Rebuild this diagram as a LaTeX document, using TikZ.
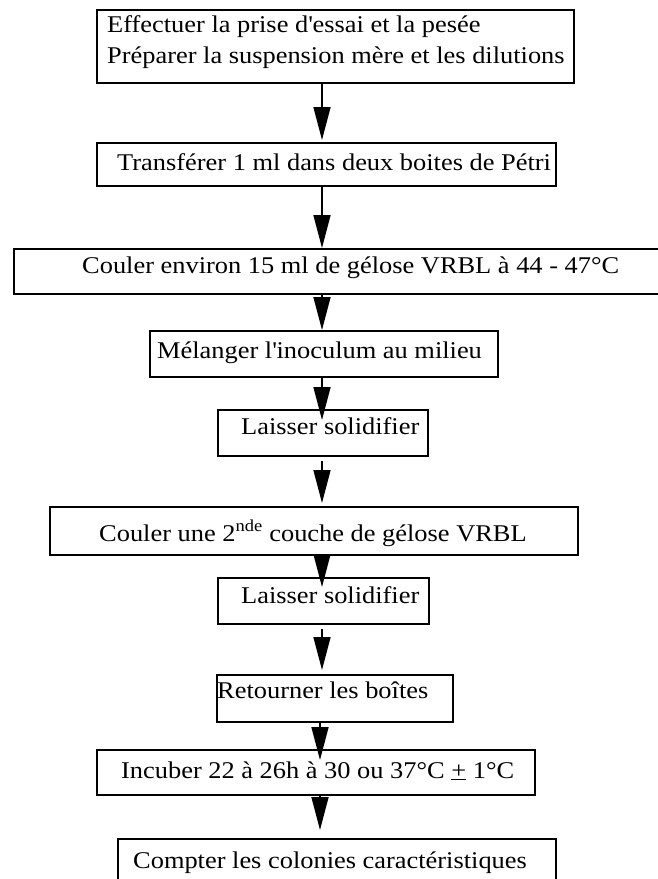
\documentclass[tikz,border=0pt]{standalone}
\usepackage{fontspec}
\setmainfont[FakeStretch=1.1]{Liberation Serif}
\usetikzlibrary{arrows.meta,calc}
\begin{document}
\begin{tikzpicture}[x=1pt,y=-1pt,
  box/.style={draw=black,line width=1.5pt,inner sep=0pt,anchor=north west},
  txt/.style={inner sep=0pt,anchor=base west,font=\fontsize{24}{31}\selectfont},
  arr/.style={line width=1.6pt,-{Triangle[length=33pt,width=17pt]}}]
\path[use as bounding box,clip] (0,0) rectangle (658,879);
% boxes (left, top, width, height)
\node[box,minimum width=477pt,minimum height=73pt] (b1) at (96,9) {};
\node[box,minimum width=459pt,minimum height=43pt] (b2) at (96,142) {};
\node[box,minimum width=660pt,minimum height=45pt] (b3) at (13,248) {};
\node[box,minimum width=348pt,minimum height=46pt] (b4) at (149,330) {};
\node[box,minimum width=210pt,minimum height=46pt] (b5) at (217,409) {};
\node[box,minimum width=528pt,minimum height=48pt] (b6) at (49,506) {};
\node[box,minimum width=211pt,minimum height=46pt] (b7) at (217,577) {};
\node[box,minimum width=236pt,minimum height=47pt] (b8) at (216,674) {};
\node[box,minimum width=438pt,minimum height=45pt] (b9) at (96,749) {};
\node[box,minimum width=438pt,minimum height=60pt] (b10) at (117,838) {};
% texts
\node[txt] (t1a) at (107,32) {Effectuer la prise d\textquotesingle essai et la pesée};
\node[txt] (t1b) at (107,63) {Préparer la suspension mère et les dilutions};
\node[txt] (t2) at (117,170) {Transférer 1 ml dans deux boites de Pétri};
\node[txt] (t3) at (82,273) {Couler environ 15 ml de gélose VRBL à 44 - 47°C};
\node[txt] (t4) at (157,358) {Mélanger l\textquotesingle inoculum au milieu};
\node[txt] (t5) at (241,434) {Laisser solidifier};
\node[txt] (t6) at (99,541) {Couler une 2\textsuperscript{nde} couche de gélose VRBL};
\node[txt] (t7) at (241,603) {Laisser solidifier};
\node[txt] (t8) at (217,698) {Retourner les boîtes};
\node[txt] (t9) at (121,778) {Incuber 22 à 26h à 30 ou 37°C \underline{+} 1°C};
\node[txt] (t10) at (133,868) {Compter les colonies caractéristiques};
% arrows
\coordinate (ax) at (322,0);
\coordinate (bx) at (320,0);
\draw[arr] (b1.south -| ax) -- ($(b2.north -| ax)+(0,-2)$);
\draw[arr] (b2.south -| ax) -- (b3.north -| ax);
\draw[arr] (b3.south -| ax) -- (b4.north -| ax);
\draw[arr] (b4.south -| ax) -- ($(b5.north -| ax)+(0,11)$);
\draw[arr] ($(b5.south -| ax)+(0,4)$) -- ($(b6.north -| ax)+(0,-3)$);
\draw[arr] (b6.south -| ax) -- ($(b7.north -| ax)+(0,10)$);
\draw[arr] ($(b7.south -| ax)+(0,4)$) -- ($(b8.north -| ax)+(0,-4)$);
\draw[arr] (b8.south -| bx) -- ($(b9.north -| bx)+(0,11)$);
\draw[arr] (b9.south -| bx) -- ($(b10.north -| bx)+(0,-8)$);
\end{tikzpicture}
\end{document}
